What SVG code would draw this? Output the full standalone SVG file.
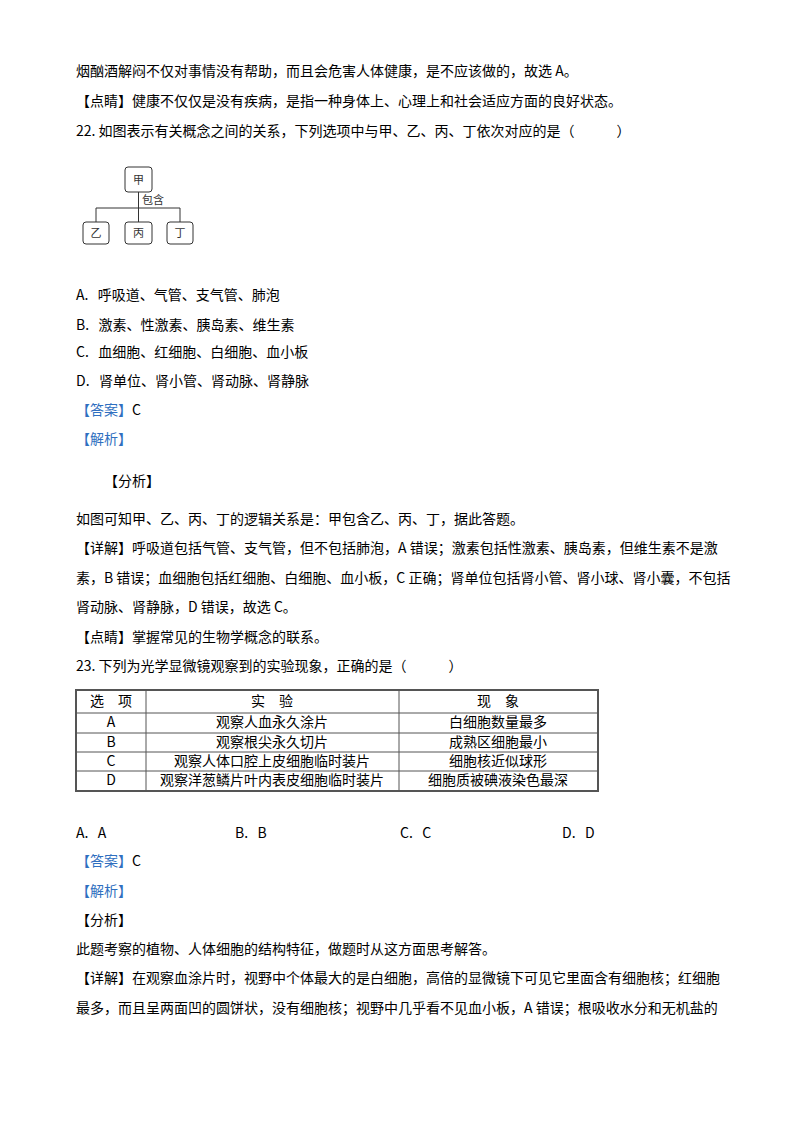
<svg xmlns="http://www.w3.org/2000/svg" width="800" height="1132" viewBox="0 0 800 1132">
<style>
text{font-family:"Noto Sans CJK SC","Liberation Serif",serif;font-size:14px;fill:#000;white-space:pre}
.b{fill:#2f6fc0}
.s{font-size:11px;fill:#333}
.bx{fill:#fff;stroke:#333;stroke-width:1}
.ln{stroke:#333;stroke-width:1;fill:none}
.t{stroke:#555;stroke-width:1;fill:none}
</style>
<rect width="800" height="1132" fill="#fff"/>
<text x="76" y="76">烟酗酒解闷不仅对事情没有帮助，而且会危害人体健康，是不应该做的，故选 A。</text>
<text x="76" y="106">【点睛】健康不仅仅是没有疾病，是指一种身体上、心理上和社会适应方面的良好状态。</text>
<text x="76" y="136">22. 如图表示有关概念之间的关系，下列选项中与甲、乙、丙、丁依次对应的是（　　　）</text>
<g id="connectors">
<path class="ln" d="M138.5 192V222M96 208H180M96 208V222M180 208V222"/>
</g>
<g id="jia"><rect class="bx" x="125" y="167" width="27" height="25" rx="3"/><text class="s" x="138.5" y="184" text-anchor="middle">甲</text></g>
<text class="s" x="142" y="204" font-size="10">包含</text>
<g id="yi"><rect class="bx" x="83" y="222" width="26" height="22" rx="3"/><text class="s" x="96" y="237" text-anchor="middle">乙</text></g>
<g id="bing"><rect class="bx" x="125" y="222" width="27" height="22" rx="3"/><text class="s" x="138.5" y="237" text-anchor="middle">丙</text></g>
<g id="ding"><rect class="bx" x="167" y="222" width="26" height="22" rx="3"/><text class="s" x="180" y="237" text-anchor="middle">丁</text></g>
<text x="76" y="300">A.   呼吸道、气管、支气管、肺泡</text>
<text x="76" y="330">B.   激素、性激素、胰岛素、维生素</text>
<text x="76" y="357">C.   血细胞、红细胞、白细胞、血小板</text>
<text x="76" y="386">D.   肾单位、肾小管、肾动脉、肾静脉</text>
<text x="76" y="415"><tspan class="b">【答案】</tspan>C</text>
<text x="76" y="444" class="b">【解析】</text>
<text x="104" y="486">【分析】</text>
<text x="76" y="524">如图可知甲、乙、丙、丁的逻辑关系是：甲包含乙、丙、丁，据此答题。</text>
<text x="76" y="553">【详解】呼吸道包括气管、支气管，但不包括肺泡，A 错误；激素包括性激素、胰岛素，但维生素不是激</text>
<text x="76" y="583">素，B 错误；血细胞包括红细胞、白细胞、血小板，C 正确；肾单位包括肾小管、肾小球、肾小囊，不包括</text>
<text x="76" y="612">肾动脉、肾静脉，D 错误，故选 C。</text>
<text x="76" y="642">【点睛】掌握常见的生物学概念的联系。</text>
<text x="76" y="671">23. 下列为光学显微镜观察到的实验现象，正确的是（　　　）</text>
<g id="table">
<rect x="76" y="690" width="522" height="101" fill="#fff" stroke="#555" stroke-width="2"/>
<path class="t" d="M146 690V791M399 690V791M76 713H598M76 733H598M76 752H598M76 771H598"/>
<g>
<text x="111" y="706" text-anchor="middle" font-size="12" fill="#333">选　项</text>
<text x="272" y="706" text-anchor="middle" font-size="12" fill="#333">实　验</text>
<text x="498" y="706" text-anchor="middle" font-size="12" fill="#333">现　象</text>
<text x="111" y="727" text-anchor="middle" font-size="12" fill="#333">A</text>
<text x="272" y="727" text-anchor="middle" font-size="12" fill="#333">观察人血永久涂片</text>
<text x="498" y="727" text-anchor="middle" font-size="12" fill="#333">白细胞数量最多</text>
<text x="111" y="747" text-anchor="middle" font-size="12" fill="#333">B</text>
<text x="272" y="747" text-anchor="middle" font-size="12" fill="#333">观察根尖永久切片</text>
<text x="498" y="747" text-anchor="middle" font-size="12" fill="#333">成熟区细胞最小</text>
<text x="111" y="766" text-anchor="middle" font-size="12" fill="#333">C</text>
<text x="272" y="766" text-anchor="middle" font-size="12" fill="#333">观察人体口腔上皮细胞临时装片</text>
<text x="498" y="766" text-anchor="middle" font-size="12" fill="#333">细胞核近似球形</text>
<text x="111" y="785" text-anchor="middle" font-size="12" fill="#333">D</text>
<text x="272" y="785" text-anchor="middle" font-size="12" fill="#333">观察洋葱鳞片叶内表皮细胞临时装片</text>
<text x="498" y="785" text-anchor="middle" font-size="12" fill="#333">细胞质被碘液染色最深</text>
</g>
</g>
<text x="76" y="838">A.   A</text>
<text x="235" y="838">B.   B</text>
<text x="400" y="838">C.   C</text>
<text x="562" y="838">D.   D</text>
<text x="76" y="866"><tspan class="b">【答案】</tspan>C</text>
<text x="76" y="896" class="b">【解析】</text>
<text x="76" y="925">【分析】</text>
<text x="76" y="954">此题考察的植物、人体细胞的结构特征，做题时从这方面思考解答。</text>
<text x="76" y="983">【详解】在观察血涂片时，视野中个体最大的是白细胞，高倍的显微镜下可见它里面含有细胞核；红细胞</text>
<text x="76" y="1013">最多，而且呈两面凹的圆饼状，没有细胞核；视野中几乎看不见血小板，A 错误；根吸收水分和无机盐的</text>
</svg>
